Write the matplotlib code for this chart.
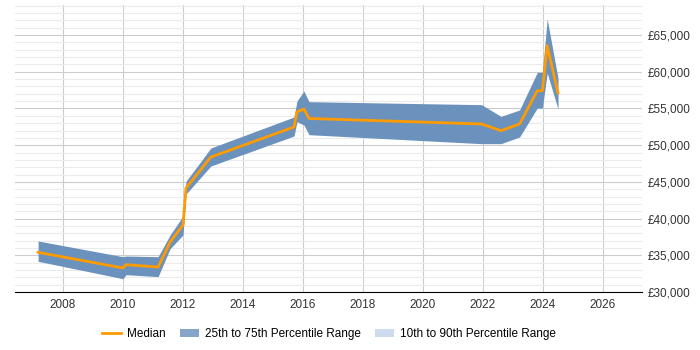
import matplotlib.pyplot as plt
from matplotlib.patches import Patch
from matplotlib.lines import Line2D
from matplotlib.ticker import FuncFormatter, MultipleLocator

plt.rcParams['font.family'] = ['Liberation Sans', 'DejaVu Sans']

# --- data ---
years = [2007.17, 2010.0, 2010.1, 2011.17, 2011.57, 2012.0, 2012.1, 2012.93,
         2015.7, 2015.8, 2016.03, 2016.2, 2021.95, 2022.6, 2023.22, 2023.81,
         2023.98, 2024.14, 2024.5]
median = [35400, 33270, 33720, 33400, 36800, 39130, 44170, 48390,
          52480, 54530, 54930, 53640, 52890, 51980, 52890, 57430,
          57430, 63560, 57110]
p25 = [34180, 31810, 32360, 32090, 35900, 37770, 43350, 47170,
       51250, 53200, 52750, 51430, 50210, 50210, 51120, 55070,
       55070, 59840, 54930]
p75 = [36950, 34810, 34900, 34810, 37770, 40350, 45080, 49620,
       53840, 56020, 57380, 55930, 55520, 53930, 54800, 59930,
       59930, 67190, 59160]

band_col = '#6b92bc'
median_col = '#ff9a00'

fig = plt.figure(figsize=(7, 3.5), dpi=100)
ax = fig.add_axes([15 / 700, 58 / 350, 627 / 700, 287 / 350])

ax.fill_between(years, p25, p75, color=band_col, linewidth=0, zorder=2)
ax.plot(years, median, color=median_col, linewidth=2, zorder=3)

ax.set_xlim(2006.4, 2027.3)
ax.set_ylim(30000, 69100)
ax.xaxis.set_major_locator(MultipleLocator(2))
ax.yaxis.set_major_locator(MultipleLocator(5000))
ax.yaxis.set_minor_locator(MultipleLocator(1000))
ax.yaxis.set_major_formatter(FuncFormatter(lambda v, p: f'£{int(v):,}'))
ax.yaxis.tick_right()

ax.grid(True, which='major', color='#cccccc', linewidth=0.8, zorder=0)
ax.grid(True, which='minor', axis='y', color='#ebebeb', linewidth=0.8, zorder=0)
ax.set_axisbelow(True)

for s in ['left', 'right', 'top']:
    ax.spines[s].set_visible(False)
ax.spines['bottom'].set_color('#000000')
ax.tick_params(axis='both', which='both', length=0, labelsize=8.5, colors='#333333')
ax.tick_params(axis='y', pad=4)
ax.tick_params(axis='x', pad=5)

handles = [Line2D([0], [0], color=median_col, linewidth=2),
           Patch(facecolor='#86a5c8', edgecolor='none'),
           Patch(facecolor='#ccdcee', edgecolor='none')]
labels = ['Median', '25th to 75th Percentile Range', '10th to 90th Percentile Range']
fig.legend(handles, labels, loc='center', bbox_to_anchor=(0.47, 16 / 350), ncol=3,
           frameon=False, fontsize=8.5, handlelength=1.6, handletextpad=0.5,
           columnspacing=1.2)

fig.savefig('out.png', dpi=100)
